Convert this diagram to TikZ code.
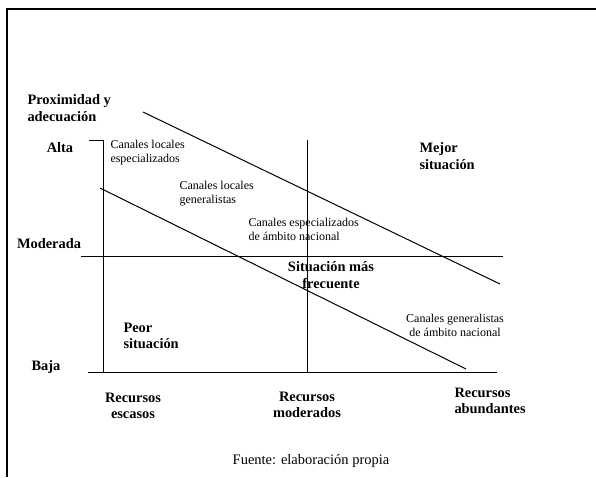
\documentclass[tikz,border=0pt]{standalone}
\usepackage{fontspec}
\setmainfont{Liberation Serif}
\tikzset{
  axislabel/.style={font=\fontsize{14.4}{16.5}\selectfont\bfseries, inner sep=0pt, align=left},
  channel/.style={font=\fontsize{12}{13.8}\selectfont, inner sep=0pt, align=left},
}
\begin{document}
\begin{tikzpicture}[x=1pt,y=-1pt,line width=1pt]
    \useasboundingbox (0,0) rectangle (596,477);

    % frame
    \coordinate (FR) at (596,9);
    \coordinate (FC) at (7,9);
    \coordinate (FB) at (7,477);
    \draw[line width=1.4pt] (FR) -- (FC) -- (FB);

    % axes and quadrant lines
    \coordinate (T) at (89,140);
    \coordinate (A) at (103,140);
    \coordinate (B) at (103,372);
    \coordinate (M) at (307,140);
    \coordinate (N) at (307,372);
    \coordinate (L) at (88,372);
    \coordinate (R) at (497,372);
    \coordinate (ML) at (81,256);
    \coordinate (MR) at (503,256);
    \coordinate (U1) at (143,112);
    \coordinate (U2) at (500,284);
    \coordinate (D1) at (100,188);
    \coordinate (D2) at (466,369);

    \draw (T) -- (A) -- (B);
    \draw (M) -- (N);
    \draw (L) -- (R);
    \draw (ML) -- (MR);
    \draw (U1) -- (U2);
    \draw (D1) -- (D2);

    % labels
    \node[axislabel, anchor=west] (prox) at (27,108) {Proximidad y\\adecuación};
    \node[axislabel] (alta) at (60,148) {Alta};
    \node[axislabel] (moderada) at (49,244) {Moderada};
    \node[axislabel] (baja) at (46,367) {Baja};

    \node[channel, anchor=west] (locesp) at (110,153) {Canales locales\\especializados};
    \node[channel, anchor=west] (locgen) at (179,194) {Canales locales\\generalistas};
    \node[channel, anchor=west] (nacesp) at (248,229) {Canales especializados\\de ámbito nacional};
    \node[channel, align=center] (nacgen) at (455,325) {Canales generalistas\\de ámbito nacional};

    \node[axislabel, anchor=west] (mejor) at (419,156) {Mejor\\situación};
    \node[axislabel, align=center] (frec) at (331,275) {Situación más\\frecuente};
    \node[axislabel, anchor=west] (peor) at (123,336) {Peor\\situación};

    \node[axislabel, align=center] (escasos) at (133,406) {Recursos\\escasos};
    \node[axislabel, align=center] (moderados) at (307,405) {Recursos\\moderados};
    \node[axislabel, anchor=west] (abund) at (454,401) {Recursos\\abundantes};

    \node[font=\fontsize{14.5}{17}\selectfont, inner sep=0pt] (fuente) at (311,461) {Fuente: elaboración propia};
\end{tikzpicture}
\end{document}
